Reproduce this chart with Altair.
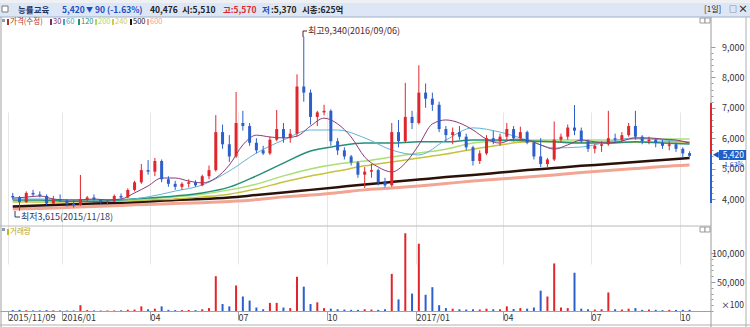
import altair as alt
import pandas as pd

FONT = "Noto Sans CJK KR"

# ---------------- data (weekly candles) ----------------
week_start = "2015-11-11"
n_weeks = 101

opens = [4100, 4050, 3900, 4200, 4150, 4100, 3850, 4000, 3950, 3850,
         3800, 4000, 4050, 3980, 3900, 3920, 4100, 4050, 4300, 4550,
         4950, 4900, 5250, 4650, 4500, 4400, 4500, 4550, 4450, 4750,
         4950, 6200, 5800, 5400, 6500, 6400, 5850, 5600, 5500, 5950,
         6300, 6000, 6150, 7700, 7500, 6700, 6850, 6900, 5900, 5600,
         5400, 5200, 4800, 4900, 4950, 4550, 4450, 6200, 5900, 6700,
         6500, 7500, 7300, 7100, 6300, 6100, 6200, 6050, 5700, 5250,
         5500, 6000, 5900, 6050, 6300, 6000, 6200, 5850, 5400, 5150,
         5300, 5950, 6050, 6350, 6250, 5900, 5650, 5750, 5800, 6000,
         5950, 6100, 6400, 6050, 5900, 5950, 5850, 5750, 5800, 5650, 5510]
highs = [4200, 4100, 4250, 4300, 4250, 4150, 4100, 4150, 4000, 3950,
         4790, 4100, 4150, 4000, 3980, 4150, 4180, 4350, 4600, 5150,
         5280, 5350, 5300, 4750, 4600, 4550, 4650, 4620, 4800, 5100,
         6760, 6450, 6100, 7520, 6900, 6500, 6000, 5750, 6050, 6930,
         6500, 6300, 8100, 9340, 7600, 6900, 7100, 6950, 6000, 5700,
         5450, 5250, 5050, 5150, 5000, 4700, 6500, 6600, 7820, 6900,
         8400, 7800, 7500, 7200, 6400, 6350, 6400, 6150, 5750, 5600,
         6100, 6250, 6150, 6500, 6400, 6380, 6250, 5900, 6000, 5350,
         6550, 6150, 6450, 7090, 6350, 5950, 5800, 5900, 6900, 6150,
         6200, 6500, 6900, 6100, 6050, 6000, 5950, 5900, 5850, 5700, 5570]
lows = [3980, 3615, 3880, 4100, 4050, 3800, 3830, 3900, 3750, 3720,
        3780, 3920, 3950, 3850, 3820, 3900, 4000, 4030, 4250, 4500,
        4800, 4750, 4550, 4400, 4300, 4300, 4380, 4400, 4420, 4650,
        4900, 5650, 5220, 5350, 6250, 5750, 5500, 5450, 5450, 5900,
        5850, 5850, 6050, 7200, 6450, 6400, 6750, 5750, 5450, 5300,
        5100, 4700, 4360, 4700, 4450, 4380, 4400, 5700, 5850, 6300,
        6450, 7000, 6900, 6200, 5900, 5800, 5950, 5600, 5100, 5150,
        5450, 5800, 5750, 5950, 5900, 5920, 5800, 5300, 5050, 5050,
        5250, 5850, 5950, 6100, 5850, 5550, 5500, 5550, 5750, 5850,
        5850, 6050, 5950, 5800, 5800, 5700, 5650, 5600, 5550, 5350, 5370]
closes = [4050, 3900, 4200, 4150, 4100, 3850, 4000, 3950, 3850, 3800,
          4000, 4050, 3980, 3900, 3920, 4100, 4050, 4300, 4550, 4950,
          4900, 5250, 4650, 4500, 4400, 4500, 4550, 4450, 4750, 4950,
          6200, 5800, 5400, 6500, 6400, 5850, 5600, 5500, 5950, 6300,
          6000, 6150, 7700, 7500, 6700, 6850, 6900, 5900, 5600, 5400,
          5200, 4800, 4900, 4950, 4550, 4450, 6200, 5900, 6700, 6500,
          7500, 7300, 7100, 6300, 6100, 6200, 6050, 5700, 5250, 5500,
          6000, 5900, 6050, 6300, 6000, 6200, 5850, 5400, 5150, 5300,
          5950, 6050, 6350, 6250, 5900, 5650, 5750, 5800, 6000, 5950,
          6100, 6400, 6050, 5900, 5950, 5850, 5750, 5800, 5650, 5500, 5420]
volumes = [1500, 2000, 1200, 1000, 1000, 1500, 1200, 1000, 800, 900,
           10000, 1500, 1000, 800, 900, 1000, 1200, 2000, 2500, 8000,
           3000, 4000, 8000, 2000, 1500, 1500, 1800, 1500, 3000, 5000,
           60000, 12000, 8000, 44000, 25000, 18000, 6000, 3000, 14000, 14000,
           6000, 5000, 59000, 42000, 12000, 15000, 5000, 4000, 3000, 2500,
           2000, 2000, 3000, 2500, 2000, 3000, 64000, 20000, 134000, 30000,
           116000, 28000, 41000, 10000, 5000, 4000, 3000, 2500, 3000, 2500,
           4000, 3000, 3000, 8000, 3500, 5000, 4000, 6000, 35000, 25000,
           82000, 6000, 5000, 66000, 4000, 3000, 2500, 3000, 32000, 3000,
           2500, 4000, 5000, 2000, 2500, 2000, 1500, 2000, 1800, 2000, 2000]

# moving averages read at every 2nd week (30) / every 4th week (others)
ma30_weeks = list(range(0, 101, 2))
ma_weeks = list(range(0, 101, 4))
ma30 = [4030, 4060, 4100, 4000, 3970, 3970, 4000, 3970, 4000, 4200,
        4430, 4690, 4690, 4590, 4530, 4690, 5120, 5780, 6100, 6040,
        6010, 6070, 6400, 6660, 6470, 6040, 5380, 5050, 4890, 5180,
        5780, 6470, 6600, 6500, 6270, 5970, 5840, 5970, 5940, 5780,
        5640, 5780, 5940, 5880, 5840, 5910, 6010, 6010, 5970, 5940, 5840]
ma60 = [4000, 4000, 3970, 3970, 3970, 4070, 4260, 4460, 4920, 5510, 5940, 6270, 6270,
        6010, 5610, 5450, 5940, 6340, 6200, 5940, 5680, 5710, 5880, 6010, 5940, 5880]
ma120 = [3970, 3970, 3930, 3930, 3970, 4030, 4100, 4200, 4390, 4760, 5180, 5580, 5740,
         5840, 5840, 5880, 5880, 5940, 5940, 5910, 5880, 5840, 5840, 5880, 5840, 5810]
ma200 = [3930, 3930, 3930, 3970, 3970, 4000, 4070, 4160, 4300, 4490, 4760, 4990, 5150,
         5250, 5380, 5510, 5640, 5840, 5910, 5940, 5940, 5940, 5940, 5970, 5970, 5970]
ma240 = [3900, 3900, 3900, 3930, 3930, 3970, 4000, 4070, 4160, 4330, 4560, 4760, 4920,
         5090, 5220, 5350, 5480, 5640, 5780, 5880, 5880, 5870, 5880, 5870, 5880, 5870]
ma500 = [3750, 3790, 3820, 3850, 3880, 3920, 3970, 4000, 4050, 4130, 4210, 4300, 4390,
         4480, 4560, 4640, 4720, 4790, 4870, 4950, 5020, 5090, 5150, 5220, 5280, 5350]
ma600 = [3670, 3690, 3720, 3750, 3790, 3820, 3850, 3880, 3920, 3980, 4070, 4130, 4210,
         4300, 4360, 4430, 4510, 4590, 4660, 4720, 4790, 4870, 4940, 5000, 5070, 5120]

x_tick_dates = ["2015-11-06", "2016-01-01", "2016-04-01", "2016-07-01", "2016-10-01",
                "2017-01-01", "2017-04-01", "2017-07-01", "2017-10-01"]
price_ticks = [4000, 5000, 6000, 7000, 8000, 9000]
price_minor = list(range(3600, 9600, 200))
vol_ticks = [50000, 100000]
vol_minor = list(range(0, 140000, 10000))

# ---------------- tables ----------------
dates = pd.date_range(week_start, periods=n_weeks, freq="7D")
date_str = list(dates.strftime("%Y-%m-%d"))
df = pd.DataFrame({"date": date_str, "open": opens, "high": highs, "low": lows,
                   "close": closes, "vol": volumes})
df["dir"] = ["up" if c >= o else "down" for o, c in zip(opens, closes)]


def ms(s):
    return int(pd.Timestamp(s).value // 10**6)


x_axis = alt.Axis(values=[ms(d) for d in x_tick_dates],
                  labelExpr="datum.value < utc(2016,0,1) ? '2015/11/09' : (utcmonth(datum.value) == 0 ? utcFormat(datum.value, '%Y/%m') : utcFormat(datum.value, '%m'))",
                  orient="bottom", grid=True, gridColor="#e6e6e6", domainColor="#a0a0a0",
                  tickColor="#a0a0a0", tickSize=9, labelAlign="left", labelBaseline="top",
                  labelPadding=-7, labelFontSize=9, labelFont=FONT,
                  labelColor="#333333", labelFlush=False, labelOverlap=False, title=None)
X = alt.X("date:T", scale=alt.Scale(type="utc", domain=[ms("2015-11-03"), ms("2017-10-28")]),
          axis=x_axis, title=None)

price_scale = alt.Scale(domain=[4000, 9000], range=[199, 47], zero=False, nice=False)
vol_scale = alt.Scale(domain=[0, 100000], range=[311, 253], zero=True, nice=False)

UP, DOWN = "#e0262d", "#2d5fcb"
col = alt.Color("dir:N", scale=alt.Scale(domain=["up", "down"], range=[UP, DOWN]), legend=None)

one = pd.DataFrame({"a": [1]})
COMMA = "format(datum.value, ',.0f')"


def txt(x, y, s, color="#333333", size=9, align="left", weight="normal", baseline="middle"):
    return alt.Chart(one).mark_text(text=s, align=align, baseline=baseline, font=FONT,
                                    fontSize=size, fontWeight=weight, color=color).encode(
        x=alt.value(x), y=alt.value(y))


def rect(x0, y0, x1, y1, fill, stroke=None, sw=1):
    kw = dict(color=fill)
    if stroke:
        kw.update(stroke=stroke, strokeWidth=sw)
    return alt.Chart(one).mark_rect(**kw).encode(
        x=alt.value(x0), x2=alt.value(x1), y=alt.value(y0), y2=alt.value(y1))


def hline(x0, x1, y, color, w=1):
    return alt.Chart(one).mark_rule(color=color, strokeWidth=w).encode(
        x=alt.value(x0), x2=alt.value(x1), y=alt.value(y))


def vline(x, y0, y1, color, w=1):
    return alt.Chart(one).mark_rule(color=color, strokeWidth=w).encode(
        x=alt.value(x), y=alt.value(y0), y2=alt.value(y1))


layers = []

# backgrounds / frame
layers += [
    rect(0, 0, 750, 3, "#eef0f3"),
    rect(0, 3, 750, 17, "#dde6f4"),
    hline(0, 750, 17, "#9fb0c8"),
    rect(2, 6, 8, 12, "#ffffff", "#7a7a7a"),
    vline(1, 17, 327, "#a0a0a0"),
    vline(746, 17, 327, "#b0b0b0"),
    hline(0, 711, 226, "#b8b8b8"),
    hline(0, 750, 325, "#b0b0b0"),
    rect(700, 18, 705, 23, "#ffffff", "#9a9a9a"),
    rect(705, 18, 710, 23, "#ffffff", "#9a9a9a"),
    rect(700, 227, 705, 232, "#ffffff", "#9a9a9a"),
    rect(705, 227, 710, 232, "#ffffff", "#9a9a9a"),
]

# header
HS = 8.5
layers += [
    txt(18, 10, "능률교육", "#223366", HS, weight="bold"),
    txt(62, 10, "5,420", "#1b4fc4", HS, weight="bold"),
    txt(86, 10, "▼", "#1b4fc4", 7),
    txt(95, 10, "90", "#1b4fc4", HS, weight="bold"),
    txt(107, 10, "(-1.63%)", "#1b4fc4", HS, weight="bold"),
    txt(150, 10, "40,476", "#222222", HS, weight="bold"),
    txt(182, 10, "시:5,510", "#222222", HS, weight="bold"),
    txt(223, 10, "고:5,570", "#e0262d", HS, weight="bold"),
    txt(262, 10, "저", "#1b4fc4", HS, weight="bold"),
    txt(271, 10, ":5,370", "#222222", HS, weight="bold"),
    txt(302, 10, "시총:625억", "#222222", HS, weight="bold"),
    txt(704, 10, "[1일]", "#222222", 8),
    txt(733, 10, "□", "#333333", 8, align="center"),
    txt(743, 10, "×", "#333333", 10, align="center", weight="bold"),
]

# legend row
legend_items = [(7, "가격(수정)", "#b0302a"), (50, "30", "#7b2d6b"), (63, "60", "#3aa6cc"),
                (78, "120", "#24907a"), (95, "200", "#a9d86a"), (112, "240", "#cfcb50"),
                (130, "500", "#2a1208"), (147, "600", "#f0a090")]
layers.append(rect(2, 19, 5, 22, "#8a9ab0"))
for x0, s, c in legend_items:
    layers.append(rect(x0, 19, x0 + 2, 25, c))
    layers.append(txt(x0 + 3, 22, s, c, 7.5))

# volume label
layers += [rect(2, 228, 5, 231, "#8a9ab0"), rect(7, 229, 9, 235, "#c8b428"),
           txt(10, 232, "거래량", "#b8a020", 7.5)]

# moving averages (drawn under the candles)
ma_specs = [("600", ma600, ma_weeks, "#f3a593", 3),
            ("500", ma500, ma_weeks, "#2a1208", 2.5),
            ("240", ma240, ma_weeks, "#c7c23c", 1.5),
            ("200", ma200, ma_weeks, "#a9df74", 1.5),
            ("120", ma120, ma_weeks, "#24907a", 1.5),
            ("60", ma60, ma_weeks, "#62b4d6", 1),
            ("30", ma30, ma30_weeks, "#8b3a78", 1)]
for k, (name, vals, idx, c, w) in enumerate(ma_specs):
    sub = pd.DataFrame({"date": [date_str[i] for i in idx], "value": vals})
    if k == 0:
        ax = alt.Axis(values=price_minor, labels=False, tickSize=2, domain=False, grid=False,
                      orient="right", tickColor="#9a9a9a", title=None)
    else:
        ax = None
    layers.append(alt.Chart(sub).mark_line(color=c, strokeWidth=w, interpolate="monotone").encode(
        x=X, y=alt.Y("value:Q", scale=price_scale, axis=ax, title=None)))

# candles
layers.append(alt.Chart(df).mark_rule(strokeWidth=1).encode(
    x=X,
    y=alt.Y("low:Q", scale=price_scale, title=None,
            axis=alt.Axis(values=price_ticks, labelExpr=COMMA, orient="right", grid=False,
                          domain=False, tickSize=4, tickColor="#9a9a9a", labelAlign="right",
                          labelPadding=29, labelFont=FONT, labelFontSize=9,
                          labelColor="#333333", title=None)),
    y2="high:Q", color=col))
layers.append(alt.Chart(df).mark_bar(size=3).encode(
    x=X, y=alt.Y("open:Q", scale=price_scale, axis=None, title=None), y2="close:Q", color=col))

# volume
layers.append(alt.Chart(df).mark_bar(size=2).encode(
    x=X,
    y=alt.Y("vol:Q", scale=vol_scale, title=None,
            axis=alt.Axis(values=vol_ticks, labelExpr=COMMA, orient="right", grid=False,
                          domain=False, tickSize=4, tickColor="#9a9a9a", labelAlign="right",
                          labelPadding=29, labelFont=FONT, labelFontSize=9,
                          labelColor="#333333", title=None)),
    color=col))
layers.append(alt.Chart(df).mark_tick(opacity=0).encode(
    x=X,
    y=alt.Y("vol:Q", scale=vol_scale, title=None,
            axis=alt.Axis(values=vol_minor, labels=False, tickSize=2, domain=False, grid=False,
                          orient="right", tickColor="#9a9a9a", title=None))))

# right axis line, range bar, current price
layers += [
    vline(711, 17, 327, "#9a9a9a"),
    vline(711, 103, 153, "#e0262d", 2),
    vline(711, 153, 203, "#2d5fcb", 2),
    txt(716, 155, "◀", "#1b4fc4", 7, align="center"),
    rect(719, 150, 746, 160, "#1f5fc8"),
    txt(744, 155, "5,420", "#ffffff", 8.5, align="right"),
    txt(744, 164.5, "-1.63%", "#1b4fc4", 7, align="right"),
    txt(744, 305, "×100", "#333333", 8.5, align="right"),
]

# high / low annotations
layers += [
    vline(303, 31, 37, "#5a1e1e"),
    hline(303, 307, 31, "#5a1e1e"),
    txt(308, 31, "최고9,340(2016/09/06)", "#5a1e1e", 9),
    vline(15, 211, 217, "#2b3a67"),
    hline(15, 20, 217, "#2b3a67"),
    txt(21, 217, "최저3,615(2015/11/18)", "#2b3a67", 9),
]

chart = alt.layer(*layers).resolve_scale(y="independent").properties(
    width=711, height=311,
    padding={"left": 0, "top": 0, "right": 39, "bottom": 16},
    autosize=alt.AutoSizeParams(type="none"),
    background="white",
).configure_view(stroke=None)

chart.save("out.html", embed_options={"renderer": "svg", "actions": False})
